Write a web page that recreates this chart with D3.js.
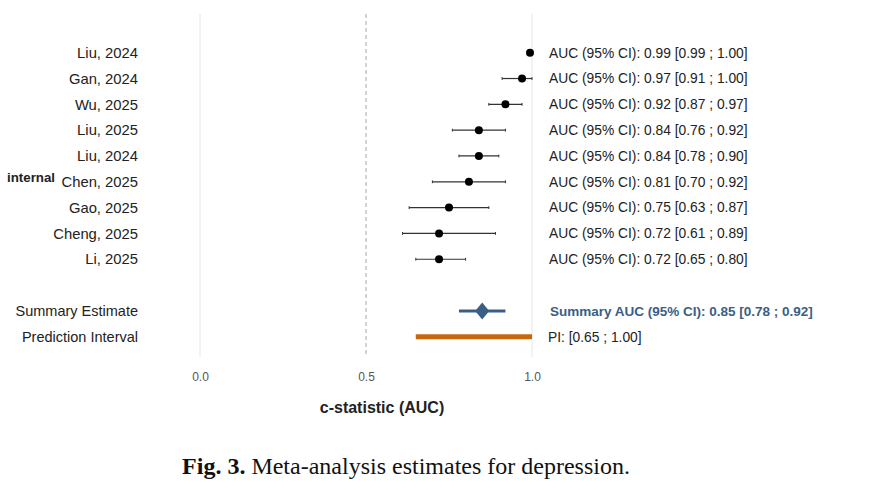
<!DOCTYPE html>
<html>
<head>
<meta charset="utf-8">
<script src="https://cdn.jsdelivr.net/npm/d3@7"></script>
<style>
  body { margin: 0; background: #fff; }
  svg { display: block; }
</style>
</head>
<body>
<div id="chart"></div>
<script>
// study rows, top to bottom
const studies = ["Liu, 2024", "Gan, 2024", "Wu, 2025", "Liu, 2025", "Liu, 2024", "Chen, 2025", "Gao, 2025", "Cheng, 2025", "Li, 2025"];
const auc   = [0.994, 0.97, 0.92, 0.84, 0.84, 0.81, 0.75, 0.72, 0.72];
const lower = [0.99, 0.91, 0.87, 0.76, 0.78, 0.70, 0.63, 0.61, 0.65];
const upper = [1.00, 1.00, 0.97, 0.92, 0.90, 0.92, 0.87, 0.89, 0.80];

const summaryEst = [0.85, 0.78, 0.92]; // estimate, low, high
const predInterval = [0.65, 1.00];
const xTicks = [0.0, 0.5, 1.0];
const groupLabel = "internal";

let width = 876, height = 492;
const fmt = d3.format(".2f");

let svg = d3.select("#chart").append("svg")
    .attr("width", width).attr("height", height);

let x = d3.scaleLinear().domain([0, 1]).range([200, 532]);
// rows 0..8 are studies, 10 = summary, 11 = prediction interval
let y = d3.scaleLinear().domain([0, 11]).range([52.7, 336.7]);

const blue = "#3b5e87", orange = "#c8680e";

// grid lines
svg.append("g").selectAll("line")
    .data(xTicks)
    .join("line")
    .attr("x1", d => x(d)).attr("x2", d => x(d))
    .attr("y1", 14).attr("y2", 357)
    .attr("stroke", d => d === 0.5 ? "#a8a8a8" : "#e6e6e6")
    .attr("stroke-width", 1)
    .attr("stroke-dasharray", d => d === 0.5 ? "4,3" : null);

// axis
let axis = d3.axisBottom(x).tickValues(xTicks).tickFormat(d3.format(".1f")).tickSize(0).tickPadding(0);
let axisG = svg.append("g").attr("transform", "translate(0,372)").call(axis);
axisG.select(".domain").remove();
axisG.selectAll("text")
    .attr("fill", "#555")
    .style("font-family", "Liberation Sans, Arial, sans-serif")
    .style("font-size", "12px");

svg.append("text")
    .attr("x", 382).attr("y", 413)
    .attr("text-anchor", "middle")
    .style("font-family", "Liberation Sans, Arial, sans-serif")
    .style("font-size", "16px").style("font-weight", "bold")
    .attr("fill", "#222")
    .text("c-statistic (AUC)");

// study labels
let rows = svg.append("g").selectAll("g")
    .data(studies)
    .join("g")
    .attr("transform", (d, i) => "translate(0," + y(i) + ")");

rows.append("text")
    .attr("x", 138).attr("dy", "0.35em")
    .attr("text-anchor", "end")
    .style("font-family", "Liberation Sans, Arial, sans-serif")
    .style("font-size", "14.8px")
    .attr("fill", "#222")
    .text(d => d);

// CI lines with small caps
rows.append("line")
    .attr("x1", (d, i) => x(lower[i])).attr("x2", (d, i) => x(upper[i]))
    .attr("stroke", "#333").attr("stroke-width", 1.2);
rows.append("line")
    .attr("x1", (d, i) => x(lower[i])).attr("x2", (d, i) => x(lower[i]))
    .attr("y1", -1.4).attr("y2", 1.4)
    .attr("stroke", "#333").attr("stroke-width", 1);
rows.append("line")
    .attr("x1", (d, i) => x(upper[i])).attr("x2", (d, i) => x(upper[i]))
    .attr("y1", -1.4).attr("y2", 1.4)
    .attr("stroke", "#333").attr("stroke-width", 1);

rows.append("circle")
    .attr("cx", (d, i) => x(auc[i]))
    .attr("r", 4)
    .attr("fill", "#000");

rows.append("text")
    .attr("x", 549).attr("dy", "0.35em")
    .style("font-family", "Liberation Sans, Arial, sans-serif")
    .style("font-size", "13.8px")
    .attr("fill", "#222")
    .text((d, i) => "AUC (95% CI): " + fmt(auc[i]) + " [" + fmt(lower[i]) + " ; " + fmt(upper[i]) + "]");

// group label
svg.append("text")
    .attr("x", 7).attr("y", y(5) - 4).attr("dy", "0.35em")
    .style("font-family", "Liberation Sans, Arial, sans-serif")
    .style("font-size", "13.3px").style("font-weight", "bold")
    .attr("fill", "#222")
    .text(groupLabel);

// summary estimate
let sy = y(10);
svg.append("text")
    .attr("x", 138).attr("y", sy).attr("dy", "0.35em")
    .attr("text-anchor", "end")
    .style("font-family", "Liberation Sans, Arial, sans-serif")
    .style("font-size", "14.5px").attr("fill", "#222")
    .text("Summary Estimate");
svg.append("line")
    .attr("x1", x(summaryEst[1])).attr("x2", x(summaryEst[2]))
    .attr("y1", sy).attr("y2", sy)
    .attr("stroke", blue).attr("stroke-width", 3);
let cx = x(summaryEst[0]);
svg.append("path")
    .attr("d", "M" + (cx - 7) + "," + sy + "L" + cx + "," + (sy - 8.5) + "L" + (cx + 7) + "," + sy + "L" + cx + "," + (sy + 8.5) + "Z")
    .attr("fill", blue);
svg.append("text")
    .attr("x", 550).attr("y", sy).attr("dy", "0.35em")
    .style("font-family", "Liberation Sans, Arial, sans-serif")
    .style("font-size", "13.5px").style("font-weight", "bold")
    .attr("fill", blue)
    .text("Summary AUC (95% CI): " + fmt(summaryEst[0]) + " [" + fmt(summaryEst[1]) + " ; " + fmt(summaryEst[2]) + "]");

// prediction interval
let py = y(11);
svg.append("text")
    .attr("x", 138).attr("y", py).attr("dy", "0.35em")
    .attr("text-anchor", "end")
    .style("font-family", "Liberation Sans, Arial, sans-serif")
    .style("font-size", "14.5px").attr("fill", "#222")
    .text("Prediction Interval");
svg.append("line")
    .attr("x1", x(predInterval[0])).attr("x2", x(predInterval[1]))
    .attr("y1", py).attr("y2", py)
    .attr("stroke", orange).attr("stroke-width", 5);
svg.append("text")
    .attr("x", 548).attr("y", py).attr("dy", "0.35em")
    .style("font-family", "Liberation Sans, Arial, sans-serif")
    .style("font-size", "13.8px").attr("fill", "#222")
    .text("PI: [" + fmt(predInterval[0]) + " ; " + fmt(predInterval[1]) + "]");

// caption
let cap = svg.append("text")
    .attr("x", 406).attr("y", 474)
    .attr("text-anchor", "middle")
    .style("font-family", "Liberation Serif, Times New Roman, serif")
    .style("font-size", "24px").attr("fill", "#111");
cap.append("tspan").style("font-weight", "bold").text("Fig. 3.");
cap.append("tspan").text(" Meta-analysis estimates for depression.");
</script>
</body>
</html>
